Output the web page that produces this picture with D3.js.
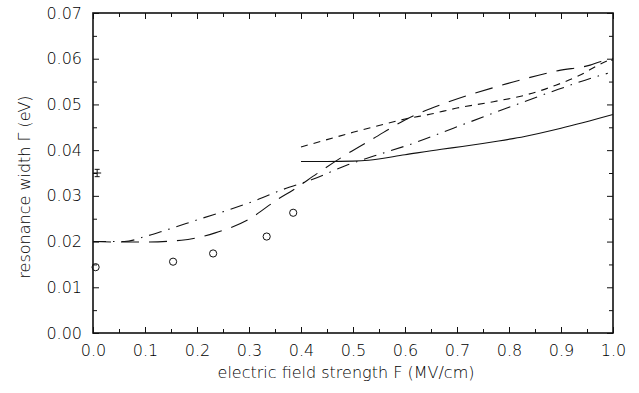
<!DOCTYPE html>
<html>
<head>
<meta charset="utf-8">
<script src="https://cdn.jsdelivr.net/npm/d3@7"></script>
<style>
  body { margin: 0; background: #fff; }
  text { font-family: 'DejaVu Sans', sans-serif; font-weight: 200; fill: #000; }
</style>
</head>
<body>
<div id="app"></div>
<script>
// data
const xTicks = [0, 0.1, 0.2, 0.3, 0.4, 0.5, 0.6, 0.7, 0.8, 0.9, 1.0];
const yTicks = [0, 0.01, 0.02, 0.03, 0.04, 0.05, 0.06, 0.07];

const solidF = [0.40, 0.45, 0.50, 0.53, 0.60, 0.67, 0.71, 0.78, 0.83, 0.90, 1.00];
const solidG = [0.0375, 0.0375, 0.0376, 0.0378, 0.0390, 0.0402, 0.0408, 0.0420, 0.0430, 0.0448, 0.0478];

const shortDashF = [0.40, 0.45, 0.50, 0.55, 0.60, 0.65, 0.70, 0.77, 0.83, 0.86, 0.89, 0.94, 0.97, 1.00];
const shortDashG = [0.0407, 0.0423, 0.0439, 0.0454, 0.0468, 0.0479, 0.0492, 0.0506, 0.0520, 0.0530, 0.0542, 0.0566, 0.0585, 0.0601];

const longDashF = [0.00, 0.05, 0.10, 0.17, 0.235, 0.30, 0.356, 0.385, 0.43, 0.475, 0.54, 0.60, 0.68, 0.78, 0.83, 0.895, 0.956, 0.977, 1.00];
const longDashG = [0.0200, 0.0199, 0.0199, 0.0203, 0.0219, 0.0249, 0.0293, 0.0313, 0.0348, 0.0382, 0.0426, 0.0466, 0.0504, 0.0540, 0.0556, 0.0574, 0.0586, 0.0594, 0.0597];

const dashDotF = [0.00, 0.06, 0.10, 0.14, 0.21, 0.26, 0.315, 0.363, 0.42, 0.49, 0.54, 0.616, 0.693, 0.796, 0.895, 0.968, 0.99];
const dashDotG = [0.0200, 0.0200, 0.0211, 0.0225, 0.0251, 0.0269, 0.0291, 0.0313, 0.0335, 0.0368, 0.0387, 0.0415, 0.0448, 0.0492, 0.0533, 0.0561, 0.0568];

// measured points (circles)
const circleF = [0.005, 0.154, 0.231, 0.334, 0.385];
const circleG = [0.0144, 0.0156, 0.0174, 0.0211, 0.0263];

// point with error bar
const errF = [0.008];
const errG = [0.035];
const errDG = [0.0008];

// canvas
const containerWidth = 639;
const containerHeight = 393;
const margin = { top: 13, right: 26, bottom: 60, left: 93 };
const width = containerWidth - margin.left - margin.right;
const height = containerHeight - margin.top - margin.bottom;

const wrapper = d3
  .select('#app')
  .append('svg')
  .attr('width', containerWidth)
  .attr('height', containerHeight);

const bounds = wrapper
  .append('g')
  .attr('transform', `translate(${margin.left},${margin.top})`);

// scales
const xScale = d3.scaleLinear().domain([0, 1]).range([0, width]);
const yScale = d3.scaleLinear().domain([0, 0.07]).range([height, 0]);

// axes: ticks point inward on all four sides, minor ticks halfway
const xMinor = d3.range(0.05, 1, 0.1);
const yMinor = d3.range(0.005, 0.07, 0.01);

const axisStyle = (g) => {
  g.select('.domain').remove();
  g.selectAll('.tick line').attr('stroke', '#111').attr('stroke-width', 1);
};
const labelStyle = (g) =>
  g.selectAll('text')
    .attr('font-size', 16)
    .attr('font-family', "'DejaVu Sans', sans-serif")
    .attr('font-weight', 200)
    .attr('fill', '#000');

bounds
  .append('g')
  .attr('transform', `translate(0,${height})`)
  .call(d3.axisBottom(xScale).tickValues(xTicks).tickFormat(d3.format('.1f')).tickSizeInner(-6).tickPadding(12))
  .call(axisStyle)
  .call(labelStyle);

bounds
  .append('g')
  .call(d3.axisLeft(yScale).tickValues(yTicks).tickFormat(d3.format('.2f')).tickSizeInner(-6).tickPadding(11))
  .call(axisStyle)
  .call(labelStyle);

bounds
  .append('g')
  .call(d3.axisTop(xScale).tickValues(xTicks).tickSizeInner(-6).tickFormat(''))
  .call(axisStyle);

bounds
  .append('g')
  .attr('transform', `translate(${width},0)`)
  .call(d3.axisRight(yScale).tickValues(yTicks).tickSizeInner(-6).tickFormat(''))
  .call(axisStyle);

// minor ticks
bounds.append('g').attr('transform', `translate(0,${height})`)
  .call(d3.axisBottom(xScale).tickValues(xMinor).tickSizeInner(-4).tickFormat('')).call(axisStyle);
bounds.append('g')
  .call(d3.axisTop(xScale).tickValues(xMinor).tickSizeInner(-4).tickFormat('')).call(axisStyle);
bounds.append('g')
  .call(d3.axisLeft(yScale).tickValues(yMinor).tickSizeInner(-4).tickFormat('')).call(axisStyle);
bounds.append('g').attr('transform', `translate(${width},0)`)
  .call(d3.axisRight(yScale).tickValues(yMinor).tickSizeInner(-4).tickFormat('')).call(axisStyle);

// frame
bounds
  .append('rect')
  .attr('width', width)
  .attr('height', height)
  .attr('fill', 'none')
  .attr('stroke', '#111')
  .attr('stroke-width', 1.6);

// axis labels
wrapper
  .append('text')
  .attr('text-anchor', 'middle')
  .attr('x', 346)
  .attr('y', 378)
  .attr('font-size', 16)
  .text('electric field strength F (MV/cm)');

wrapper
  .append('text')
  .attr('text-anchor', 'middle')
  .attr('transform', 'rotate(-90)')
  .attr('x', -187)
  .attr('y', 30)
  .attr('font-size', 16)
  .text('resonance width Γ (eV)');

// curves
const line = d3
  .line()
  .x((d) => xScale(d[0]))
  .y((d) => yScale(d[1]))
  .curve(d3.curveMonotoneX);

const curves = [
  { f: solidF, g: solidG, dash: null },
  { f: shortDashF, g: shortDashG, dash: '7 6' },
  { f: longDashF, g: longDashG, dash: '18 10' },
  { f: dashDotF, g: dashDotG, dash: '13 7 1.5 7' },
];

bounds
  .append('g')
  .selectAll('path')
  .data(curves)
  .enter()
  .append('path')
  .attr('d', (c) => line(c.f.map((f, i) => [f, c.g[i]])))
  .attr('fill', 'none')
  .attr('stroke', '#111')
  .attr('stroke-width', 1.1)
  .attr('stroke-dasharray', (c) => c.dash);

// circles
bounds
  .append('g')
  .selectAll('circle')
  .data(circleF.map((f, i) => [f, circleG[i]]))
  .enter()
  .append('circle')
  .attr('cx', (d) => xScale(d[0]))
  .attr('cy', (d) => yScale(d[1]))
  .attr('r', 3.6)
  .attr('fill', 'none')
  .attr('stroke', '#111')
  .attr('stroke-width', 1);

// error bar point
const errGroup = bounds.append('g').attr('stroke', '#111').attr('stroke-width', 1);
errF.forEach((f, i) => {
  const cx = xScale(f);
  const y0 = yScale(errG[i] - errDG[i]);
  const y1 = yScale(errG[i] + errDG[i]);
  errGroup.append('line').attr('x1', cx).attr('x2', cx).attr('y1', y0).attr('y2', y1);
  errGroup.append('line').attr('x1', cx - 2.5).attr('x2', cx + 2.5).attr('y1', y0).attr('y2', y0);
  errGroup.append('line').attr('x1', cx - 2.5).attr('x2', cx + 2.5).attr('y1', y1).attr('y2', y1);
  errGroup.append('line').attr('x1', cx - 4).attr('x2', cx + 4).attr('y1', yScale(errG[i])).attr('y2', yScale(errG[i]));
});
</script>
</body>
</html>
